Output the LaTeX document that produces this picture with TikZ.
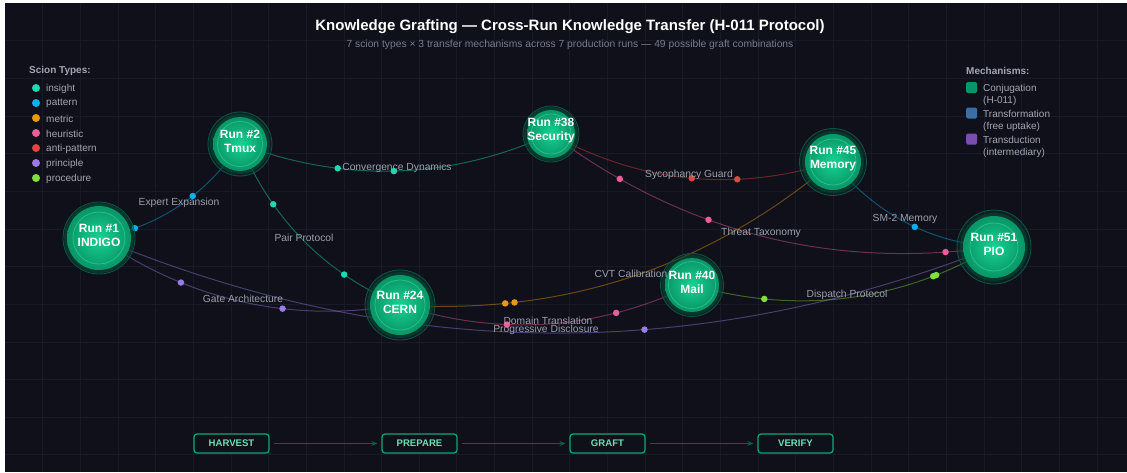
\documentclass[tikz,border=0pt]{standalone}
\usepackage{fontspec}
\setmainfont{Liberation Sans}
\usetikzlibrary{calc,arrows.meta}

\definecolor{bgc}{HTML}{0F1019}
\definecolor{gridc}{HTML}{171B27}
\definecolor{insightc}{HTML}{1ED8B0}
\definecolor{patternc}{HTML}{0CB0EE}
\definecolor{metricc}{HTML}{E89A0A}
\definecolor{heurc}{HTML}{EC5C9A}
\definecolor{antic}{HTML}{E24444}
\definecolor{princc}{HTML}{9A7BE6}
\definecolor{procc}{HTML}{80E03A}
\definecolor{conjc}{HTML}{059669}
\definecolor{transfc}{HTML}{3B6EA5}
\definecolor{transdc}{HTML}{7B4EAD}
\definecolor{labelc}{HTML}{9CA0AC}
\definecolor{legc}{HTML}{A3A6B2}
\definecolor{subc}{HTML}{7A7D94}
\definecolor{runA}{HTML}{17D293}
\definecolor{runB}{HTML}{0A9C6A}
\definecolor{runC}{HTML}{056B4A}
\definecolor{ringc}{HTML}{0D5545}
\definecolor{innerc}{HTML}{3EE0AE}
\definecolor{haloc}{HTML}{064A37}
\definecolor{stepc}{HTML}{6EDFB0}
\definecolor{stepborder}{HTML}{10A877}
\definecolor{steparrowc}{HTML}{0E5C48}

\pgfdeclareradialshading{runshade}{\pgfpoint{0bp}{0bp}}{color(0bp)=(runA); color(22bp)=(runB); color(50bp)=(runC)}

\pgfdeclarelayer{back}
\pgfdeclarelayer{edges}
\pgfsetlayers{back,edges,main}

\tikzset{
  edgeline/.style={draw=#1, draw opacity=0.42, line width=1pt},
  dot/.style={circle, fill=#1, inner sep=0pt, minimum size=6.5pt},
  elabel/.style={font=\fontsize{10.3}{12}\selectfont, text=labelc, inner sep=0pt},
  runtext/.style={font=\fontsize{12}{14}\selectfont\bfseries, text=white, align=center, inner sep=0pt},
  legtitle/.style={font=\fontsize{10}{12}\selectfont\bfseries, text=legc, inner sep=0pt, anchor=west},
  legtext/.style={font=\fontsize{10}{12}\selectfont, text=legc, inner sep=0pt, anchor=west},
  legdot/.style={circle, fill=#1, inner sep=0pt, minimum size=8pt},
  legsq/.style={fill=#1, rounded corners=1.5pt, inner sep=0pt, minimum size=11pt},
  stepbox/.style={draw=stepborder, line width=1.2pt, rounded corners=3pt, fill=bgc,
    minimum width=75pt, minimum height=19pt, inner sep=0pt, text=stepc,
    font=\fontsize{9.6}{10}\selectfont\bfseries},
  steparrow/.style={draw=steparrowc, line width=1pt, -{Stealth[length=6pt,width=5pt]},
    shorten <=4pt, shorten >=4pt},
}

\newcommand{\runnode}[7]{%
  \fill[haloc, opacity=0.3] (#2) circle (#5pt);
  \fill[haloc, opacity=0.55] (#2) circle (#3pt+3pt);
  \draw[ringc, line width=0.8pt] (#2) circle (#5pt);
  \node[circle, inner sep=0pt, minimum size=2*#3pt, shading=runshade] (#1) at (#2) {};
  \draw[innerc, draw opacity=0.5, line width=0.8pt] (#1.center) circle (#4pt);
  \node[runtext] (#1t) at ($(#1.center)+(0,-3)$) {#6\\#7};
}
\newcommand{\graft}[5]{%
  \draw[edgeline=#1] (#2.center) .. controls ($(#2.center)!0.6667!(#3)$) and ($(#4.center)!0.6667!(#3)$) .. (#4.center) #5;}

\begin{document}
\begin{tikzpicture}[x=1pt,y=-1pt]
\useasboundingbox (0,0) rectangle (1127,472);

\begin{pgfonlayer}{back}
\fill[white] (0,0) rectangle (1127,472);
\fill[bgc] (5,3) rectangle (1127,472);
\foreach \i in {1,...,29} \draw[gridc, line width=0.7pt] ({5+37.65*\i},3) -- ({5+37.65*\i},472);
\foreach \j in {1,...,12} \draw[gridc, line width=0.7pt] (5,{3+37.65*\j}) -- (1127,{3+37.65*\j});
\end{pgfonlayer}

% title
\node[font=\fontsize{15}{18}\selectfont\bfseries, text=white] (title) at (570,27) {Knowledge Grafting — Cross-Run Knowledge Transfer (H-011 Protocol)};
\node[font=\fontsize{10.3}{12}\selectfont, text=subc] (subtitle) at (570,45) {7 scion types × 3 transfer mechanisms across 7 production runs — 49 possible graft combinations};

% run nodes
\runnode{indigo}{99,238}{32}{26}{36}{Run \#1}{INDIGO}
\runnode{tmux}{240,144}{27}{22.5}{32}{Run \#2}{Tmux}
\runnode{sec}{551,134}{24}{20}{28}{Run \#38}{Security}
\runnode{mem}{833,162}{28}{23}{33.5}{Run \#45}{Memory}
\runnode{pio}{994,247}{31}{24}{37}{Run \#51}{PIO}
\runnode{cern}{400,305}{30}{25}{35}{Run \#24}{CERN}
\runnode{mail}{692,285}{27}{23.5}{31.5}{Run \#40}{Mail}

% grafts
\begin{pgfonlayer}{edges}
\graft{patternc}{indigo}{188.5,221}{tmux}{node[dot=patternc,pos=.21]{} node[dot=patternc,pos=.6]{}}
\graft{insightc}{tmux}{398.5,203}{sec}{node[dot=insightc,pos=.31]{} node[dot=insightc,pos=.49]{}}
\graft{insightc}{tmux}{288,257.5}{cern}{node[dot=insightc,pos=.29]{} node[dot=insightc,pos=.73]{}}
\graft{antic}{sec}{686,208}{mem}{node[dot=antic,pos=.51]{} node[dot=antic,pos=.67]{}}
\graft{heurc}{sec}{749.5,281.5}{pio}{node[dot=heurc,pos=.17]{} node[dot=heurc,pos=.38]{} node[dot=heurc,pos=.9]{}}
\graft{patternc}{mem}{896.5,239.5}{pio}{node[dot=patternc,pos=.56]{}}
\graft{metricc}{cern}{645.5,320.5}{mem}{node[dot=metricc,pos=.22]{} node[dot=metricc,pos=.24]{}}
\graft{heurc}{cern}{550,353}{mail}{node[dot=heurc,pos=.36]{} node[dot=heurc,pos=.735]{}}
\graft{princc}{indigo}{236.5,332.5}{cern}{node[dot=princc,pos=.29]{} node[dot=princc,pos=.63]{}}
\graft{princc}{indigo}{545.5,423.5}{pio}{node[dot=princc,pos=.31]{} node[dot=princc,pos=.61]{}}
\graft{procc}{mail}{851,330}{pio}{node[dot=procc,pos=.23]{} node[dot=procc,pos=.79]{} node[dot=procc,pos=.8]{}}
\end{pgfonlayer}

% graft labels
\node[elabel] (l1) at (179,202.5) {Expert Expansion};
\node[elabel] (l2) at (397,167.5) {Convergence Dynamics};
\node[elabel] (l3) at (304,237.5) {Pair Protocol};
\node[elabel] (l4) at (689,174.5) {Sycophancy Guard};
\node[elabel] (l5) at (761,232.5) {Threat Taxonomy};
\node[elabel] (l6) at (905,218.5) {SM-2 Memory};
\node[elabel] (l7) at (631,273.5) {CVT Calibration};
\node[elabel] (l8) at (548,320.5) {Domain Translation};
\node[elabel] (l9) at (243,298.5) {Gate Architecture};
\node[elabel] (l10) at (546,329.5) {Progressive Disclosure};
\node[elabel] (l11) at (847,294.5) {Dispatch Protocol};

% left legend
\node[legtitle] (sctitle) at (29,71) {Scion Types:};
\foreach \c/\t [count=\k from 0] in {insightc/insight, patternc/pattern, metricc/metric, heurc/heuristic, antic/anti-pattern, princc/principle, procc/procedure}{
  \node[legdot=\c] (sd\k) at (36,{88+15*\k}) {};
  \node[legtext] (st\k) at (46,{88.5+15*\k}) {\t};
}

% right legend
\node[legtitle] (mctitle) at (966,71) {Mechanisms:};
\node[legsq=conjc] (m1) at (971.5,87.5) {};
\node[legtext] (m1a) at (983,88.5) {Conjugation};
\node[legtext] (m1b) at (983,101) {(H-011)};
\node[legsq=transfc] (m2) at (971.5,113) {};
\node[legtext] (m2a) at (983,114) {Transformation};
\node[legtext] (m2b) at (983,126.5) {(free uptake)};
\node[legsq=transdc] (m3) at (971.5,139) {};
\node[legtext] (m3a) at (983,140) {Transduction};
\node[legtext] (m3b) at (983,152.5) {(intermediary)};

% pipeline
\node[stepbox] (harvest) at (231.5,443.5) {HARVEST};
\node[stepbox] (prepare) at (419.5,443.5) {PREPARE};
\node[stepbox] (graft) at (607.5,443.5) {GRAFT};
\node[stepbox] (verify) at (795.5,443.5) {VERIFY};
\draw[steparrow] (harvest) -- (prepare);
\draw[steparrow] (prepare) -- (graft);
\draw[steparrow] (graft) -- (verify);
\end{tikzpicture}
\end{document}
